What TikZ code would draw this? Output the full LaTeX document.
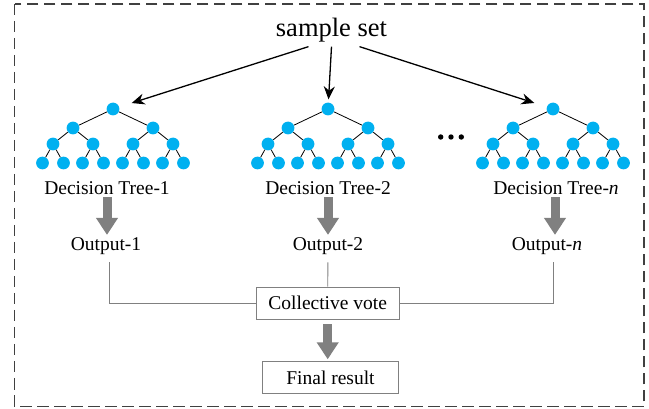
\documentclass[tikz,border=0pt]{standalone}
\usepackage{fontspec}
\setmainfont{Liberation Serif}
\usetikzlibrary{arrows.meta, positioning, calc}

\definecolor{nodeblue}{RGB}{0,176,240}
\definecolor{arrowgray}{RGB}{128,128,128}
\definecolor{framegray}{RGB}{64,64,64}

\begin{document}
\begin{tikzpicture}[x=1pt, y=-1pt,
  treenode/.style={circle, fill=nodeblue, inner sep=0pt, minimum size=12.8pt},
  branch/.style={line width=0.8pt},
  arr/.style={-{Stealth[length=13pt, width=11pt]}, line width=1.3pt},
  fat/.style={-{Triangle[length=17pt, width=21pt]}, line width=9pt, draw=arrowgray},
  txt/.style={inner sep=0pt, font=\fontsize{19.5}{22}\selectfont},
  votebox/.style={draw=arrowgray, line width=0.9pt, inner sep=0pt, font=\fontsize{19.5}{22}\selectfont},
  link/.style={draw=arrowgray, line width=0.9pt},
]
\useasboundingbox (0,0) rectangle (649,409);

% Frame
\draw[framegray, line width=1.3pt, dash pattern=on 11.5pt off 5.5pt] (14.7,4) rectangle (644,406.5);

% Input
\node[txt, font=\fontsize{26.5}{30}\selectfont, anchor=base, outer sep=4pt] (sample) at (331.5,37) {sample set};

% Trees
\foreach \id/\rx in {1/113, 2/328, n/553} {
  \node[treenode] (t\id-1) at (\rx,109) {};
  \foreach \k/\dx/\dy/\p in {2/-40/19/1, 3/40/19/1,
      4/-60/35/2, 5/-20/35/2, 6/20/35/3, 7/60/35/3,
      8/-70.5/54/4, 9/-49.5/54/4, 10/-30.5/54/5, 11/-9.5/54/5,
      12/9.5/54/6, 13/30.5/54/6, 14/49.5/54/7, 15/70.5/54/7} {
    \node[treenode] (t\id-\k) at ({\rx+(\dx)},{109+\dy}) {};
    \draw[branch] (t\id-\p) -- (t\id-\k);
  }
}
\foreach \x in {440.7, 451, 461.3}
  \fill (\x,137) circle (2.7pt);

% Labels
\node[txt, anchor=base] (dt1) at (107,195) {Decision Tree-1};
\node[txt, anchor=base] (dt2) at (328,195) {Decision Tree-2};
\node[txt, anchor=base] (dtn) at (556,195) {Decision Tree-\textit{n}};
\node[txt, anchor=base] (out1) at (106,251) {Output-1};
\node[txt, anchor=base] (out2) at (328,251) {Output-2};
\node[txt, anchor=base] (outn) at (547,251) {Output-\textit{n}};

% Voting
\node[votebox, minimum width=143pt, minimum height=32pt] (vote) at (327.7,303) {Collective vote};
\node[votebox, minimum width=136pt, minimum height=31.5pt] (final) at (330.5,377.5) {Final result};

% Sample set to trees
\draw[arr, shorten >=13pt] ([xshift=-23pt]sample.south) -- (t1-1);
\draw[arr, shorten >=3pt] (sample.south) -- (t2-1);
\draw[arr, shorten >=13pt] ([xshift=28pt]sample.south) -- (tn-1);

% Trees to outputs
\draw[fat, shorten <=2pt, shorten >=3pt] (dt1.south) -- (dt1.south |- out1.north);
\draw[fat, shorten <=2pt, shorten >=3pt] (dt2.south) -- (dt2.south |- out2.north);
\draw[fat, shorten <=2pt, shorten >=3pt] ([xshift=-1pt]dtn.south) -- ([xshift=-1pt]dtn.south |- outn.north);

% Outputs to vote
\draw[link, shorten <=7pt] ([xshift=3pt]out1.south) |- (vote.west);
\draw[link, shorten <=7pt] (out2.south) -- (vote.north);
\draw[link, shorten <=7pt] ([xshift=6pt]outn.south) |- (vote.east);
\draw[fat, shorten <=5pt, shorten >=2pt] (vote.south) -- (vote.south |- final.north);

\end{tikzpicture}
\end{document}
